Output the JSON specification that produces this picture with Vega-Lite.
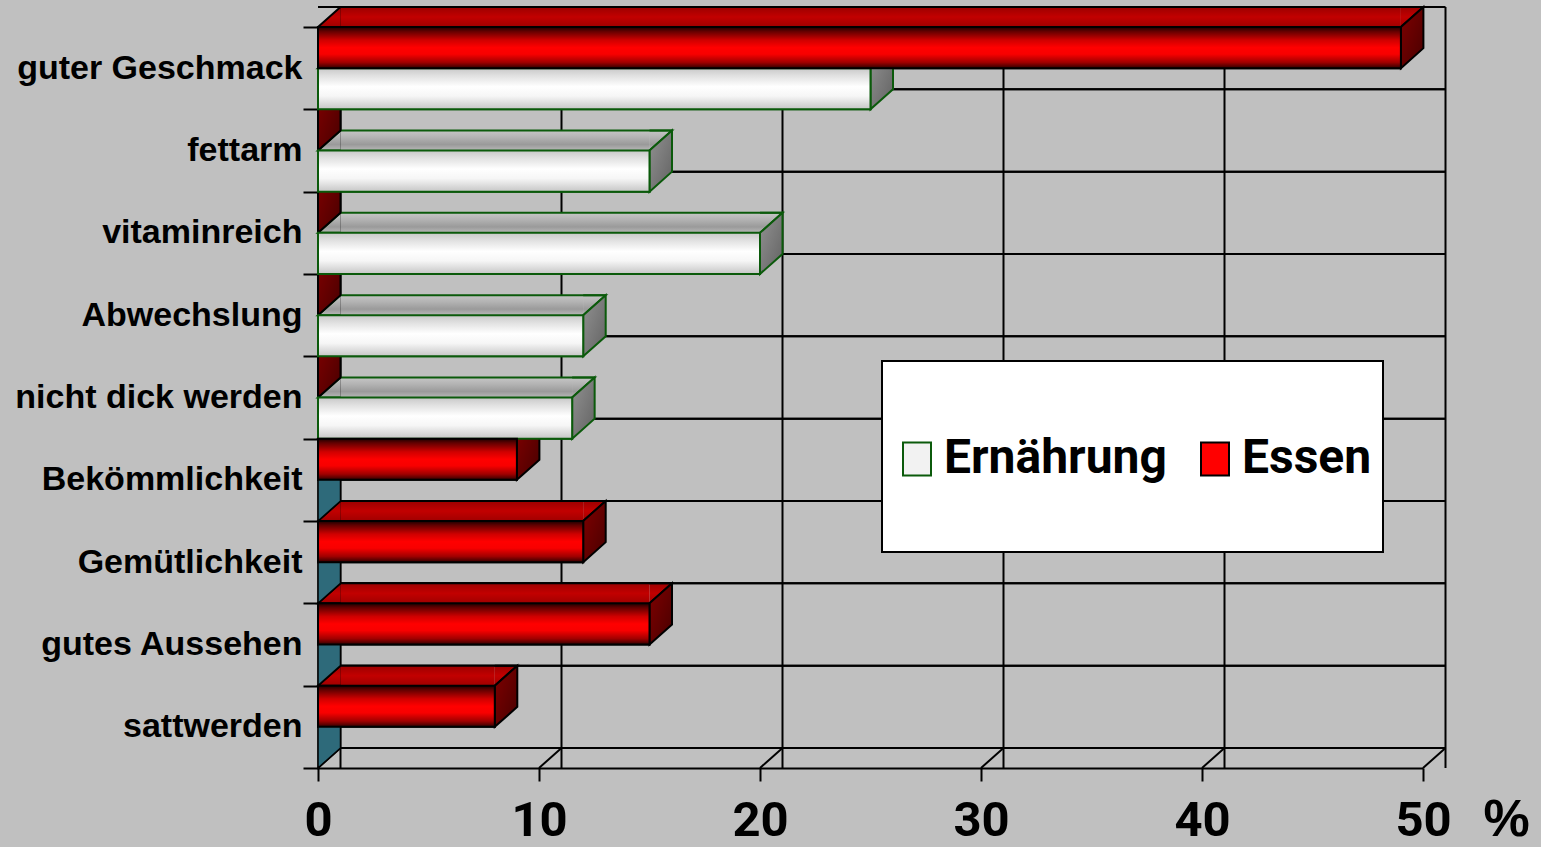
{
  "$schema": "https://vega.github.io/schema/vega-lite/v6.json",
  "width": 1105,
  "height": 741,
  "autosize": {"type": "none"},
  "padding": {"left": 318, "top": 27, "right": 118, "bottom": 79},
  "background": "#c0c0c0",
  "config": {
    "view": {"stroke": null},
    "axisX": {
      "domainColor": "#000000", "domainWidth": 2,
      "tickColor": "#000000", "tickWidth": 2, "tickSize": 13, "tickCount": 5,
      "grid": false, "labelFlush": false, "labelOverlap": false,
      "labelFont": "Roboto", "labelFontWeight": "bold", "labelFontSize": 49,
      "labelColor": "#000000", "labelPadding": 15,
      "titleFont": "Liberation Sans", "titleFontWeight": "bold", "titleFontSize": 52, "titleColor": "#000000",
      "titleX": 1188, "titleY": 67, "titleAlign": "center", "titleBaseline": "alphabetic", "titleAngle": 0,
      "zindex": 1
    },
    "axisY": {
      "domainColor": "#000000", "domainWidth": 2,
      "tickColor": "#000000", "tickWidth": 2, "tickSize": 15, "tickBand": "extent",
      "grid": false, "labelLimit": 0,
      "labelFont": "Liberation Sans", "labelFontWeight": "bold", "labelFontSize": 34,
      "labelColor": "#000000", "labelPadding": 1,
      "zindex": 1
    },
    "legend": {
      "orient": "none", "legendX": 564, "legendY": 334, "direction": "horizontal",
      "fillColor": "#ffffff", "strokeColor": "#000000", "strokeWidth": 2, "padding": 11,
      "titleFontSize": 40, "titlePadding": 23, "titleColor": "#ffffff",
      "labelFont": "Roboto", "labelFontWeight": "bold", "labelFontSize": 48, "labelColor": "#000000",
      "labelOffset": 3, "columnPadding": 24, "labelLimit": 0,
      "symbolSize": 784, "symbolStrokeWidth": 2, "symbolOpacity": 1,
      "symbolType": "M-1,-1.18 L1,-1.18 L1,1.18 L-1,1.18 Z M0,5.57 L0,5.57"
    }
  },
  "datasets": {
    "umfrage": [
      {"Merkmal": "guter Geschmack", "Reihe": "Essen", "Anteil": 49},
      {"Merkmal": "guter Geschmack", "Reihe": "Ernährung", "Anteil": 25},
      {"Merkmal": "fettarm", "Reihe": "Essen", "Anteil": 0},
      {"Merkmal": "fettarm", "Reihe": "Ernährung", "Anteil": 15},
      {"Merkmal": "vitaminreich", "Reihe": "Essen", "Anteil": 0},
      {"Merkmal": "vitaminreich", "Reihe": "Ernährung", "Anteil": 20},
      {"Merkmal": "Abwechslung", "Reihe": "Essen", "Anteil": 0},
      {"Merkmal": "Abwechslung", "Reihe": "Ernährung", "Anteil": 12},
      {"Merkmal": "nicht dick werden", "Reihe": "Essen", "Anteil": 0},
      {"Merkmal": "nicht dick werden", "Reihe": "Ernährung", "Anteil": 11.5},
      {"Merkmal": "Bekömmlichkeit", "Reihe": "Essen", "Anteil": 9},
      {"Merkmal": "Bekömmlichkeit", "Reihe": "Ernährung", "Anteil": 0},
      {"Merkmal": "Gemütlichkeit", "Reihe": "Essen", "Anteil": 12},
      {"Merkmal": "Gemütlichkeit", "Reihe": "Ernährung", "Anteil": 0},
      {"Merkmal": "gutes Aussehen", "Reihe": "Essen", "Anteil": 15},
      {"Merkmal": "gutes Aussehen", "Reihe": "Ernährung", "Anteil": 0},
      {"Merkmal": "sattwerden", "Reihe": "Essen", "Anteil": 8},
      {"Merkmal": "sattwerden", "Reihe": "Ernährung", "Anteil": 0}
    ],
    "skala": [{"wert": 0}, {"wert": 10}, {"wert": 20}, {"wert": 30}, {"wert": 40}, {"wert": 50}]
  },
  "data": {"name": "umfrage"},
  "layer": [
    {
      "description": "back wall: vertical grid lines",
      "data": {"name": "skala"},
      "mark": {"type": "rule", "color": "#000000", "strokeWidth": 2, "xOffset": 22.5, "yOffset": -20, "y2Offset": -20},
      "encoding": {"x": {"field": "wert", "type": "quantitative", "scale": {"domain": [0, 50], "nice": false}, "title": "%"}}
    },
    {
      "description": "back wall: horizontal lines at the top of each band",
      "transform": [{"filter": "datum.Reihe === 'Essen'"}],
      "mark": {"type": "rule", "color": "#000000", "strokeWidth": 2, "xOffset": 22.5, "x2Offset": 22.5, "yOffset": -20},
      "encoding": {"y": {"field": "Merkmal", "type": "nominal", "bandPosition": 0, "title": null,
        "scale": {"domain": ["guter Geschmack", "fettarm", "vitaminreich", "Abwechslung", "nicht dick werden", "Bekömmlichkeit", "Gemütlichkeit", "gutes Aussehen", "sattwerden"], "paddingInner": 0, "paddingOuter": 0}}}
    },
    {
      "description": "back wall: horizontal lines at the bottom of each band",
      "transform": [{"filter": "datum.Reihe === 'Essen'"}],
      "mark": {"type": "rule", "color": "#000000", "strokeWidth": 2, "xOffset": 22.5, "x2Offset": 22.5, "yOffset": -20},
      "encoding": {"y": {"field": "Merkmal", "type": "nominal", "bandPosition": 1, "title": null,
        "scale": {"domain": ["guter Geschmack", "fettarm", "vitaminreich", "Abwechslung", "nicht dick werden", "Bekömmlichkeit", "Gemütlichkeit", "gutes Aussehen", "sattwerden"], "paddingInner": 0, "paddingOuter": 0}}}
    },
    {
      "description": "floor: diagonal lines from the front ticks to the back wall",
      "data": {"name": "skala"},
      "mark": {"type": "rule", "color": "#000000", "strokeWidth": 2, "x2Offset": 22.5, "y2Offset": -20},
      "encoding": {
        "x": {"field": "wert", "type": "quantitative", "scale": {"domain": [0, 50], "nice": false}, "title": "%"},
        "x2": {"field": "wert"},
        "y": {"value": "height"},
        "y2": {"value": "height"}
      }
    },
    {
      "description": "flat bars that carry the legend; hidden under the shaded front faces",
      "transform": [{"filter": "datum.Anteil > 0"}],
      "mark": {"type": "bar", "strokeWidth": 2},
      "encoding": {
        "x": {"field": "Anteil", "type": "quantitative", "scale": {"domain": [0, 50], "nice": false}, "title": "%"},
        "y": {"field": "Merkmal", "type": "nominal", "title": null,
          "scale": {"domain": ["guter Geschmack", "fettarm", "vitaminreich", "Abwechslung", "nicht dick werden", "Bekömmlichkeit", "Gemütlichkeit", "gutes Aussehen", "sattwerden"], "paddingInner": 0, "paddingOuter": 0}},
        "yOffset": {"field": "Reihe", "type": "nominal", "scale": {"domain": ["Essen", "Ernährung"], "paddingInner": 0, "paddingOuter": 0}},
        "fill": {"field": "Reihe", "type": "nominal", "title": " ", "scale": {"domain": ["Ernährung", "Essen"], "range": ["#f2f2f2", "#ff0000"]}},
        "stroke": {"field": "Reihe", "type": "nominal", "title": " ", "scale": {"domain": ["Ernährung", "Essen"], "range": ["#0b5a0b", "#000000"]}}
      }
    },
    {
      "description": "top faces (Ernährung): rectangular part",
      "transform": [{"filter": "datum.Reihe === 'Ernährung' && datum.Anteil > 0"}],
      "mark": {"type": "bar", "size": 20, "yOffset": -10, "x2Offset": 22.5,
        "fill": {"gradient": "linear", "x1": 0, "y1": 0, "x2": 0, "y2": 1, "stops": [{"offset": 0, "color": "#c6c6c6"}, {"offset": 0.35, "color": "#b2b2b2"}, {"offset": 0.7, "color": "#9a9a9a"}, {"offset": 1, "color": "#b8b8b8"}]}},
      "encoding": {
        "x": {"field": "Anteil", "type": "quantitative", "scale": {"domain": [0, 50], "nice": false}, "title": "%"},
        "x2": {"datum": 0},
        "y": {"field": "Merkmal", "type": "nominal", "title": null,
          "scale": {"domain": ["guter Geschmack", "fettarm", "vitaminreich", "Abwechslung", "nicht dick werden", "Bekömmlichkeit", "Gemütlichkeit", "gutes Aussehen", "sattwerden"], "paddingInner": 0, "paddingOuter": 0}}
      }
    },
    {
      "description": "top faces (Essen): rectangular part",
      "transform": [{"filter": "datum.Reihe === 'Essen' && datum.Anteil > 0"}],
      "mark": {"type": "bar", "size": 20, "yOffset": -51.17, "x2Offset": 22.5,
        "fill": {"gradient": "linear", "x1": 0, "y1": 0, "x2": 0, "y2": 1, "stops": [{"offset": 0, "color": "#9c0000"}, {"offset": 0.5, "color": "#c20000"}, {"offset": 1, "color": "#a00000"}]}},
      "encoding": {
        "x": {"field": "Anteil", "type": "quantitative", "scale": {"domain": [0, 50], "nice": false}, "title": "%"},
        "x2": {"datum": 0},
        "y": {"field": "Merkmal", "type": "nominal", "title": null,
          "scale": {"domain": ["guter Geschmack", "fettarm", "vitaminreich", "Abwechslung", "nicht dick werden", "Bekömmlichkeit", "Gemütlichkeit", "gutes Aussehen", "sattwerden"], "paddingInner": 0, "paddingOuter": 0}}
      }
    },
    {
      "description": "top faces (Ernährung): slanted left end",
      "transform": [{"filter": "datum.Reihe === 'Ernährung' && datum.Anteil > 0"}],
      "mark": {"type": "point", "filled": true, "opacity": 1, "size": 4, "shape": "M22.5,-20.58 L0,-20.58 L22.5,-40.58",
        "stroke": "#0b5a0b", "strokeWidth": 2,
        "fill": {"gradient": "linear", "x1": 0, "y1": 0, "x2": 0, "y2": 1, "stops": [{"offset": 0, "color": "#c6c6c6"}, {"offset": 0.35, "color": "#b2b2b2"}, {"offset": 0.7, "color": "#9a9a9a"}, {"offset": 1, "color": "#b8b8b8"}]}},
      "encoding": {
        "x": {"datum": 0, "type": "quantitative", "scale": {"domain": [0, 50], "nice": false}, "title": "%"},
        "y": {"field": "Merkmal", "type": "nominal", "title": null,
          "scale": {"domain": ["guter Geschmack", "fettarm", "vitaminreich", "Abwechslung", "nicht dick werden", "Bekömmlichkeit", "Gemütlichkeit", "gutes Aussehen", "sattwerden"], "paddingInner": 0, "paddingOuter": 0}},
        "yOffset": {"field": "Reihe", "type": "nominal", "scale": {"domain": ["Essen", "Ernährung"], "paddingInner": 0, "paddingOuter": 0}}
      }
    },
    {
      "description": "top faces (Essen): slanted left end",
      "transform": [{"filter": "datum.Reihe === 'Essen' && datum.Anteil > 0"}],
      "mark": {"type": "point", "filled": true, "opacity": 1, "size": 4, "shape": "M22.5,-20.58 L0,-20.58 L22.5,-40.58",
        "stroke": "#000000", "strokeWidth": 2,
        "fill": {"gradient": "linear", "x1": 0, "y1": 0, "x2": 0, "y2": 1, "stops": [{"offset": 0, "color": "#9c0000"}, {"offset": 0.5, "color": "#c20000"}, {"offset": 1, "color": "#a00000"}]}},
      "encoding": {
        "x": {"datum": 0, "type": "quantitative", "scale": {"domain": [0, 50], "nice": false}, "title": "%"},
        "y": {"field": "Merkmal", "type": "nominal", "title": null,
          "scale": {"domain": ["guter Geschmack", "fettarm", "vitaminreich", "Abwechslung", "nicht dick werden", "Bekömmlichkeit", "Gemütlichkeit", "gutes Aussehen", "sattwerden"], "paddingInner": 0, "paddingOuter": 0}},
        "yOffset": {"field": "Reihe", "type": "nominal", "scale": {"domain": ["Essen", "Ernährung"], "paddingInner": 0, "paddingOuter": 0}}
      }
    },
    {
      "description": "top faces (Ernährung): slanted right end",
      "transform": [{"filter": "datum.Reihe === 'Ernährung' && datum.Anteil > 0"}],
      "mark": {"type": "point", "filled": true, "opacity": 1, "size": 4, "shape": "M0,-40.58 L22.5,-40.58 L0,-20.58",
        "stroke": "#0b5a0b", "strokeWidth": 2,
        "fill": {"gradient": "linear", "x1": 0, "y1": 0, "x2": 0, "y2": 1, "stops": [{"offset": 0, "color": "#c6c6c6"}, {"offset": 0.35, "color": "#b2b2b2"}, {"offset": 0.7, "color": "#9a9a9a"}, {"offset": 1, "color": "#b8b8b8"}]}},
      "encoding": {
        "x": {"field": "Anteil", "type": "quantitative", "scale": {"domain": [0, 50], "nice": false}, "title": "%"},
        "y": {"field": "Merkmal", "type": "nominal", "title": null,
          "scale": {"domain": ["guter Geschmack", "fettarm", "vitaminreich", "Abwechslung", "nicht dick werden", "Bekömmlichkeit", "Gemütlichkeit", "gutes Aussehen", "sattwerden"], "paddingInner": 0, "paddingOuter": 0}},
        "yOffset": {"field": "Reihe", "type": "nominal", "scale": {"domain": ["Essen", "Ernährung"], "paddingInner": 0, "paddingOuter": 0}}
      }
    },
    {
      "description": "top faces (Essen): slanted right end",
      "transform": [{"filter": "datum.Reihe === 'Essen' && datum.Anteil > 0"}],
      "mark": {"type": "point", "filled": true, "opacity": 1, "size": 4, "shape": "M0,-40.58 L22.5,-40.58 L0,-20.58",
        "stroke": "#000000", "strokeWidth": 2,
        "fill": {"gradient": "linear", "x1": 0, "y1": 0, "x2": 0, "y2": 1, "stops": [{"offset": 0, "color": "#9c0000"}, {"offset": 0.5, "color": "#c20000"}, {"offset": 1, "color": "#a00000"}]}},
      "encoding": {
        "x": {"field": "Anteil", "type": "quantitative", "scale": {"domain": [0, 50], "nice": false}, "title": "%"},
        "y": {"field": "Merkmal", "type": "nominal", "title": null,
          "scale": {"domain": ["guter Geschmack", "fettarm", "vitaminreich", "Abwechslung", "nicht dick werden", "Bekömmlichkeit", "Gemütlichkeit", "gutes Aussehen", "sattwerden"], "paddingInner": 0, "paddingOuter": 0}},
        "yOffset": {"field": "Reihe", "type": "nominal", "scale": {"domain": ["Essen", "Ernährung"], "paddingInner": 0, "paddingOuter": 0}}
      }
    },
    {
      "description": "top faces (Ernährung): back edge",
      "transform": [{"filter": "datum.Reihe === 'Ernährung' && datum.Anteil > 0"}],
      "mark": {"type": "rule", "color": "#0b5a0b", "strokeWidth": 2, "xOffset": 22.5, "x2Offset": 22.5, "yOffset": -20},
      "encoding": {
        "x": {"field": "Anteil", "type": "quantitative", "scale": {"domain": [0, 50], "nice": false}, "title": "%"},
        "x2": {"datum": 0},
        "y": {"field": "Merkmal", "type": "nominal", "title": null,
          "scale": {"domain": ["guter Geschmack", "fettarm", "vitaminreich", "Abwechslung", "nicht dick werden", "Bekömmlichkeit", "Gemütlichkeit", "gutes Aussehen", "sattwerden"], "paddingInner": 0, "paddingOuter": 0}}
      }
    },
    {
      "description": "top faces (Essen): back edge",
      "transform": [{"filter": "datum.Reihe === 'Essen' && datum.Anteil > 0"}],
      "mark": {"type": "rule", "color": "#000000", "strokeWidth": 2, "xOffset": 22.5, "x2Offset": 22.5, "yOffset": -61.17},
      "encoding": {
        "x": {"field": "Anteil", "type": "quantitative", "scale": {"domain": [0, 50], "nice": false}, "title": "%"},
        "x2": {"datum": 0},
        "y": {"field": "Merkmal", "type": "nominal", "title": null,
          "scale": {"domain": ["guter Geschmack", "fettarm", "vitaminreich", "Abwechslung", "nicht dick werden", "Bekömmlichkeit", "Gemütlichkeit", "gutes Aussehen", "sattwerden"], "paddingInner": 0, "paddingOuter": 0}}
      }
    },
    {
      "description": "side faces (Ernährung)",
      "transform": [{"filter": "datum.Reihe === 'Ernährung' && datum.Anteil > 0"}],
      "mark": {"type": "point", "filled": true, "opacity": 1, "size": 4, "shape": "M0,-20.58 L0,20.58 L22.5,0.58 L22.5,-40.58 Z",
        "stroke": "#0b5a0b", "strokeWidth": 2,
        "fill": {"gradient": "linear", "x1": 0, "y1": 0, "x2": 1, "y2": 1, "stops": [{"offset": 0, "color": "#929292"}, {"offset": 1, "color": "#626262"}]}},
      "encoding": {
        "x": {"field": "Anteil", "type": "quantitative", "scale": {"domain": [0, 50], "nice": false}, "title": "%"},
        "y": {"field": "Merkmal", "type": "nominal", "title": null,
          "scale": {"domain": ["guter Geschmack", "fettarm", "vitaminreich", "Abwechslung", "nicht dick werden", "Bekömmlichkeit", "Gemütlichkeit", "gutes Aussehen", "sattwerden"], "paddingInner": 0, "paddingOuter": 0}},
        "yOffset": {"field": "Reihe", "type": "nominal", "scale": {"domain": ["Essen", "Ernährung"], "paddingInner": 0, "paddingOuter": 0}}
      }
    },
    {
      "description": "end caps of empty Ernährung bars",
      "transform": [{"filter": "datum.Reihe === 'Ernährung' && datum.Anteil === 0"}],
      "mark": {"type": "point", "filled": true, "opacity": 1, "size": 4, "shape": "M0,-20.58 L0,20.58 L22.5,0.58 L22.5,-40.58 Z",
        "stroke": "#000000", "strokeWidth": 1.5, "fill": "#2e6a7a"},
      "encoding": {
        "x": {"field": "Anteil", "type": "quantitative", "scale": {"domain": [0, 50], "nice": false}, "title": "%"},
        "y": {"field": "Merkmal", "type": "nominal", "title": null,
          "scale": {"domain": ["guter Geschmack", "fettarm", "vitaminreich", "Abwechslung", "nicht dick werden", "Bekömmlichkeit", "Gemütlichkeit", "gutes Aussehen", "sattwerden"], "paddingInner": 0, "paddingOuter": 0}},
        "yOffset": {"field": "Reihe", "type": "nominal", "scale": {"domain": ["Essen", "Ernährung"], "paddingInner": 0, "paddingOuter": 0}}
      }
    },
    {
      "description": "side faces (Essen), including the caps of empty bars",
      "transform": [{"filter": "datum.Reihe === 'Essen'"}],
      "mark": {"type": "point", "filled": true, "opacity": 1, "size": 4, "shape": "M0,-20.58 L0,20.58 L22.5,0.58 L22.5,-40.58 Z",
        "stroke": "#000000", "strokeWidth": 2,
        "fill": {"gradient": "linear", "x1": 0, "y1": 0, "x2": 1, "y2": 1, "stops": [{"offset": 0, "color": "#800000"}, {"offset": 1, "color": "#480000"}]}},
      "encoding": {
        "x": {"field": "Anteil", "type": "quantitative", "scale": {"domain": [0, 50], "nice": false}, "title": "%"},
        "y": {"field": "Merkmal", "type": "nominal", "title": null,
          "scale": {"domain": ["guter Geschmack", "fettarm", "vitaminreich", "Abwechslung", "nicht dick werden", "Bekömmlichkeit", "Gemütlichkeit", "gutes Aussehen", "sattwerden"], "paddingInner": 0, "paddingOuter": 0}},
        "yOffset": {"field": "Reihe", "type": "nominal", "scale": {"domain": ["Essen", "Ernährung"], "paddingInner": 0, "paddingOuter": 0}}
      }
    },
    {
      "description": "front faces (Ernährung)",
      "transform": [{"filter": "datum.Reihe === 'Ernährung' && datum.Anteil > 0"}],
      "mark": {"type": "bar", "stroke": "#0b5a0b", "strokeWidth": 2,
        "fill": {"gradient": "linear", "x1": 0, "y1": 0, "x2": 0, "y2": 1, "stops": [{"offset": 0, "color": "#c8c8c8"}, {"offset": 0.18, "color": "#e0e0e0"}, {"offset": 0.45, "color": "#ffffff"}, {"offset": 0.68, "color": "#f6f6f6"}, {"offset": 1, "color": "#c6c6c6"}]}},
      "encoding": {
        "x": {"field": "Anteil", "type": "quantitative", "scale": {"domain": [0, 50], "nice": false}, "title": "%"},
        "y": {"field": "Merkmal", "type": "nominal", "title": null,
          "scale": {"domain": ["guter Geschmack", "fettarm", "vitaminreich", "Abwechslung", "nicht dick werden", "Bekömmlichkeit", "Gemütlichkeit", "gutes Aussehen", "sattwerden"], "paddingInner": 0, "paddingOuter": 0}},
        "yOffset": {"field": "Reihe", "type": "nominal", "scale": {"domain": ["Essen", "Ernährung"], "paddingInner": 0, "paddingOuter": 0}}
      }
    },
    {
      "description": "front faces (Essen)",
      "transform": [{"filter": "datum.Reihe === 'Essen' && datum.Anteil > 0"}],
      "mark": {"type": "bar", "stroke": "#000000", "strokeWidth": 2,
        "fill": {"gradient": "linear", "x1": 0, "y1": 0, "x2": 0, "y2": 1, "stops": [{"offset": 0, "color": "#1c0000"}, {"offset": 0.1, "color": "#600000"}, {"offset": 0.32, "color": "#d00000"}, {"offset": 0.5, "color": "#ff0000"}, {"offset": 0.66, "color": "#f80000"}, {"offset": 0.86, "color": "#a00000"}, {"offset": 1, "color": "#300000"}]}},
      "encoding": {
        "x": {"field": "Anteil", "type": "quantitative", "scale": {"domain": [0, 50], "nice": false}, "title": "%"},
        "y": {"field": "Merkmal", "type": "nominal", "title": null,
          "scale": {"domain": ["guter Geschmack", "fettarm", "vitaminreich", "Abwechslung", "nicht dick werden", "Bekömmlichkeit", "Gemütlichkeit", "gutes Aussehen", "sattwerden"], "paddingInner": 0, "paddingOuter": 0}},
        "yOffset": {"field": "Reihe", "type": "nominal", "scale": {"domain": ["Essen", "Ernährung"], "paddingInner": 0, "paddingOuter": 0}}
      }
    }
  ]
}
